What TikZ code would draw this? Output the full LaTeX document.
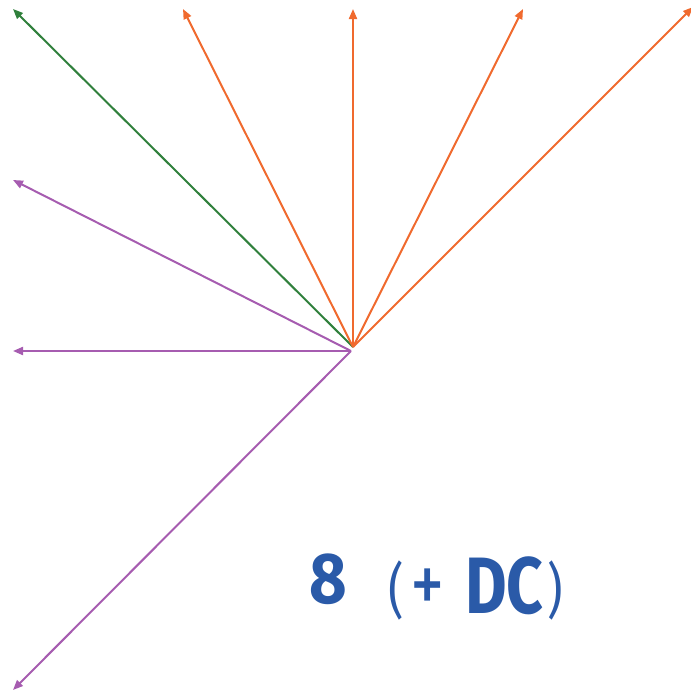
\documentclass[tikz,border=0pt]{standalone}
\usepackage{fontspec}
\setmainfont{Fira Sans}
\newfontfamily\eightfont[FakeStretch=0.9]{Fira Sans}
\newfontfamily\dcfont[FakeStretch=0.8]{Fira Sans}
\newfontfamily\pfont[FakeStretch=0.8]{Fira Sans}
\usetikzlibrary{arrows.meta}
\definecolor{cgreen}{RGB}{48,128,60}
\definecolor{corange}{RGB}{240,106,46}
\definecolor{cpurple}{RGB}{166,92,176}
\definecolor{cblue}{RGB}{42,90,168}
\begin{document}
\begin{tikzpicture}[x=1pt,y=-1pt,
  ray/.style={line width=2pt,-{Triangle[length=10pt,width=8pt]}},
  lbl/.style={inner sep=0pt,text=cblue,anchor=base west}]
\useasboundingbox (0,0) rectangle (691,691);
\coordinate (o1) at (353,347);
\coordinate (o2) at (351,351);
\coordinate (g) at (13,9);
\coordinate (a1) at (183,9);
\coordinate (a2) at (353,9);
\coordinate (a3) at (523,9);
\coordinate (a4) at (693,7);
\coordinate (p1) at (13,180);
\coordinate (p2) at (13,351);
\coordinate (p3) at (13,690);
\draw[ray,cgreen] (o1) -- (g);
\foreach \t in {a1,a2,a3,a4} \draw[ray,corange] (o1) -- (\t);
\foreach \t in {p1,p2,p3} \draw[ray,cpurple] (o2) -- (\t);
\node[lbl,font=\eightfont\bfseries\fontsize{72}{72}\selectfont] (n8) at (309,603) {8};
\node[lbl] (dc) at (388,613) {%
  \makebox[22pt][l]{\raisebox{2pt}{\pfont\fontsize{60}{60}\selectfont(}}%
  \makebox[55pt][l]{\raisebox{0pt}{\pfont\fontsize{86}{86}\selectfont+}}%
  {\dcfont\bfseries\fontsize{80}{80}\selectfont DC}\kern4pt%
  \raisebox{2pt}{\pfont\fontsize{60}{60}\selectfont)}};
\end{tikzpicture}
\end{document}
